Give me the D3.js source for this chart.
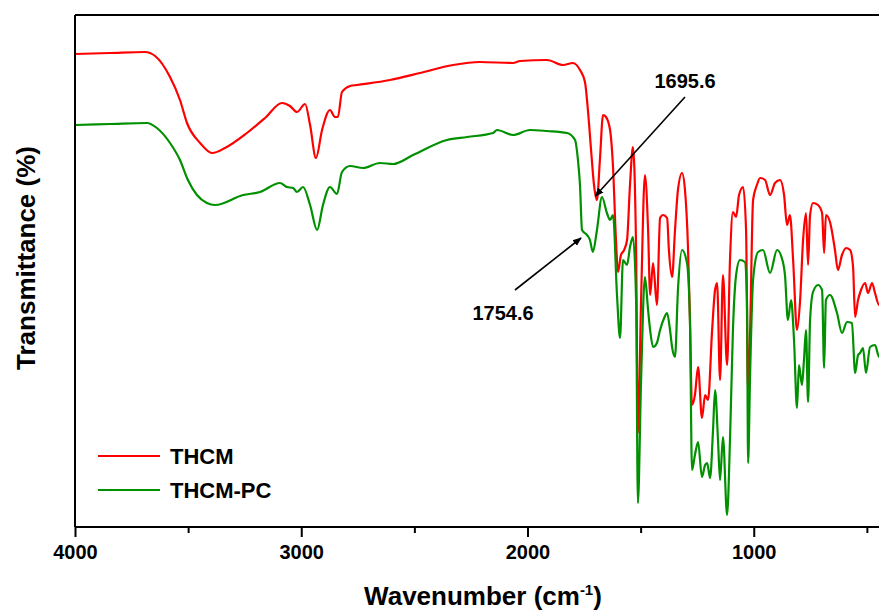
<!DOCTYPE html>
<html>
<head>
<meta charset="utf-8">
<script src="https://cdn.jsdelivr.net/npm/d3@7"></script>
<style>
html,body{margin:0;padding:0;background:#fff;}
svg{display:block;font-family:"Liberation Sans",Arial,sans-serif;}
</style>
</head>
<body>
<svg id="chart" width="879" height="612"></svg>
<script>
// ---------- DATA ----------
const seriesNames = ["THCM", "THCM-PC"];
const seriesColors = ["#ff0000", "#009000"];

const wnTHCM = [4000,3845,3691,3646,3580,3536,3505,3447,3394,3337,3240,3160,3085,3050,3019,2983,2961,2935,2908,2873,2851,2838,2820,2784,2754,2608,2475,2329,2210,2064,2033,1914,1843,1799,1768,1746,1733,1719,1706,1693,1680,1666,1653,1635,1622,1609,1600,1587,1573,1560,1547,1534,1520,1512,1498,1481,1467,1458,1445,1428,1414,1401,1383,1375,1361,1348,1335,1317,1304,1291,1282,1273,1260,1246,1229,1215,1202,1184,1171,1162,1149,1136,1118,1105,1092,1078,1065,1047,1034,1025,1016,1003,986,972,950,928,906,884,866,853,840,826,809,795,782,769,760,751,738,716,698,689,681,663,641,628,610,592,574,561,552,539,526,508,495,477,464,446,420];
const tTHCM = [94.6,94.8,95.0,94.2,90.0,85.4,80.8,76.8,74.8,75.8,78.8,81.8,84.8,84.2,83.0,84.6,80.4,73.8,79.4,83.4,82.0,82.0,87.0,88.2,88.4,89.4,90.8,92.4,93.0,92.8,93.2,93.4,92.4,92.8,91.4,89.0,83.4,75.4,68.4,65.4,73.4,82.4,82.0,79.4,72.0,57.4,51.0,54.4,55.4,57.4,68.4,76.0,55.4,18.8,45.4,70.4,59.4,46.4,52.8,44.4,61.8,62.4,61.8,55.4,50.0,59.4,67.4,70.8,67.4,56.4,41.4,24.4,26.4,32.0,21.8,26.4,25.4,39.4,47.4,48.8,29.4,50.4,32.4,53.4,63.0,62.0,66.4,68.0,59.4,26.8,39.4,65.4,68.4,69.8,69.4,66.4,68.8,69.4,66.4,60.4,62.4,53.4,39.4,45.4,57.4,62.8,52.4,62.4,64.8,64.4,62.8,54.8,62.4,61.0,55.4,51.4,54.4,55.8,55.4,52.0,42.0,45.4,47.4,48.8,46.8,48.8,46.8,44.4,44.4];

const wnPC = [4000,3845,3682,3638,3580,3536,3501,3461,3417,3381,3257,3182,3094,3063,3036,3019,2992,2961,2930,2904,2873,2842,2820,2784,2727,2652,2594,2506,2356,2267,2152,2135,2064,1989,1914,1825,1790,1777,1768,1759,1737,1724,1711,1693,1671,1649,1635,1622,1604,1591,1578,1560,1547,1534,1520,1512,1498,1481,1467,1458,1445,1428,1414,1396,1383,1370,1361,1348,1335,1317,1295,1282,1273,1260,1246,1229,1215,1206,1193,1180,1171,1158,1149,1136,1118,1105,1092,1078,1061,1039,1030,1025,1016,1003,981,959,928,897,871,862,849,835,822,809,800,787,778,769,760,751,738,716,698,689,681,663,632,610,588,566,552,539,530,517,504,486,464,446,420];
const tPC = [80.4,80.6,80.8,79.8,76.8,73.4,69.4,66.4,64.8,64.4,66.4,67.0,68.8,68.0,67.8,67.0,68.0,64.4,59.4,64.4,68.0,66.6,71.0,72.2,71.8,72.8,72.6,74.4,77.4,78.0,78.8,79.4,78.4,79.4,79.2,78.8,77.4,73.4,68.4,59.4,58.4,57.4,55.0,59.4,66.0,62.8,61.4,62.4,46.0,37.8,53.4,52.4,56.0,58.0,45.4,4.8,29.4,50.0,43.4,39.4,36.0,36.8,39.4,41.8,42.8,39.4,36.0,34.0,47.4,55.4,52.8,41.4,11.4,14.4,17.0,10.0,12.4,12.8,9.8,19.4,27.4,17.4,9.4,18.0,2.4,17.4,39.4,50.4,53.4,53.0,45.4,12.8,30.8,49.4,55.0,55.4,50.8,55.4,53.0,50.4,41.4,45.4,37.4,23.8,32.4,28.4,33.4,39.4,25.0,41.4,47.0,48.4,47.4,31.8,45.4,46.4,42.8,38.8,41.0,40.8,30.8,34.4,34.8,35.8,30.8,36.0,36.4,34.0,34.4];

const majorTicks = [4000, 3000, 2000, 1000];
const minorTicks = [3500, 2500, 1500, 500];
const xTitle = "Wavenumber (cm";
const yTitle = "Transmittance (%)";
const annotations = [
  {label: "1695.6", wn: 1695.6},
  {label: "1754.6", wn: 1754.6}
];

// ---------- LAYOUT ----------
const svg = d3.select("#chart");
const plot = {left: 75, top: 15, bottom: 527};
const x = d3.scaleLinear().domain([4000, 400]).range([plot.left, plot.left + 3600 * 0.22625]);
const y = d3.scaleLinear().domain([0, 102.4]).range([plot.bottom, plot.top]);

svg.append("rect").attr("width", 879).attr("height", 612).attr("fill", "#fff");

svg.append("defs").append("clipPath").attr("id", "clip")
  .append("rect").attr("x", plot.left).attr("y", plot.top)
  .attr("width", x(400) - plot.left).attr("height", plot.bottom - plot.top);

const line = d3.line().x(d => x(d[0])).y(d => y(d[1])).curve(d3.curveMonotoneX);
const data = [d3.zip(wnTHCM, tTHCM), d3.zip(wnPC, tPC)];

const g = svg.append("g").attr("clip-path", "url(#clip)");
data.forEach((s, i) => {
  g.append("path").datum(s).attr("d", line)
    .attr("fill", "none").attr("stroke", seriesColors[i])
    .attr("stroke-width", 2.2).attr("stroke-linejoin", "round");
});

// frame
svg.append("line").attr("x1", plot.left).attr("x2", 879).attr("y1", plot.top).attr("y2", plot.top)
  .attr("stroke", "#000").attr("stroke-width", 2);
svg.append("line").attr("x1", plot.left).attr("x2", plot.left).attr("y1", plot.top).attr("y2", plot.bottom)
  .attr("stroke", "#000").attr("stroke-width", 2);

// x axis
const xAxis = d3.axisBottom(x).tickValues(majorTicks).tickSize(10).tickPadding(8).tickFormat(d3.format("d"));
const ax = svg.append("g").attr("transform", `translate(0,${plot.bottom})`).call(xAxis);
ax.select(".domain").attr("stroke-width", 2).attr("d", `M${plot.left},0H879`);
ax.selectAll(".tick line").attr("stroke-width", 2);
ax.selectAll(".tick text").attr("font-size", 20).attr("font-weight", "bold")
  .attr("font-family", "Liberation Sans, Arial, sans-serif").attr("fill", "#000");
const axMinor = d3.axisBottom(x).tickValues(minorTicks).tickSize(6).tickFormat("");
const am = svg.append("g").attr("transform", `translate(0,${plot.bottom})`).call(axMinor);
am.select(".domain").remove();
am.selectAll(".tick line").attr("stroke-width", 2);

// titles
const xt = svg.append("text").attr("x", 483).attr("y", 605).attr("text-anchor", "middle")
  .attr("font-size", 26).attr("font-weight", "bold").attr("fill", "#000");
xt.append("tspan").text(xTitle);
xt.append("tspan").attr("dy", -10).attr("font-size", 15).text("-1");
xt.append("tspan").attr("dy", 10).text(")");

svg.append("text").attr("transform", "translate(35,258) rotate(-90)")
  .attr("text-anchor", "middle").attr("font-size", 26).attr("font-weight", "bold")
  .attr("fill", "#000").text(yTitle);

// legend
const leg = svg.append("g");
seriesNames.forEach((n, i) => {
  const yy = 456 + i * 34;
  leg.append("line").attr("x1", 98).attr("x2", 160).attr("y1", yy).attr("y2", yy)
    .attr("stroke", seriesColors[i]).attr("stroke-width", 2.2);
  leg.append("text").attr("x", 170).attr("y", yy + 8).attr("font-size", 22)
    .attr("font-weight", "bold").attr("fill", "#000").text(n);
});

// annotations
const defs = svg.select("defs");
defs.append("marker").attr("id", "arrow").attr("viewBox", "0 0 10 10")
  .attr("refX", 9).attr("refY", 5).attr("markerWidth", 9).attr("markerHeight", 9)
  .attr("orient", "auto").attr("markerUnits", "userSpaceOnUse")
  .append("path").attr("d", "M0,1 L10,5 L0,9 z").attr("fill", "#000");
const a1 = annotations[0], a2 = annotations[1];
svg.append("text").attr("x", 685).attr("y", 88).attr("text-anchor", "middle")
  .attr("font-size", 20).attr("font-weight", "bold").attr("fill", "#000").text(a1.label);
svg.append("line").attr("x1", 685).attr("y1", 97).attr("x2", x(a1.wn) - 1).attr("y2", 196)
  .attr("stroke", "#000").attr("stroke-width", 1.6).attr("marker-end", "url(#arrow)");
svg.append("text").attr("x", 503).attr("y", 320).attr("text-anchor", "middle")
  .attr("font-size", 20).attr("font-weight", "bold").attr("fill", "#000").text(a2.label);
svg.append("line").attr("x1", 515).attr("y1", 290).attr("x2", x(a2.wn) - 2).attr("y2", 238)
  .attr("stroke", "#000").attr("stroke-width", 1.6).attr("marker-end", "url(#arrow)");
</script>
</body>
</html>
